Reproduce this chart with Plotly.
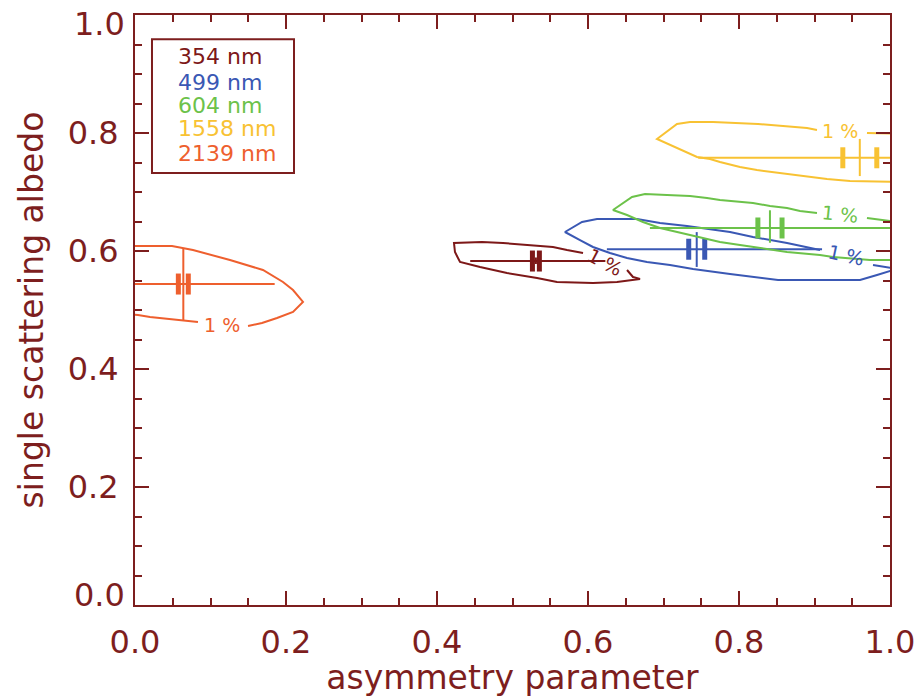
import plotly.graph_objects as go

AX = "#7D1E1E"
FONT = "DejaVu Sans"

wavelengths = ["354 nm", "499 nm", "604 nm", "1558 nm", "2139 nm"]
colors = ["#7D1818", "#3A58B4", "#6CC24A", "#F8C233", "#EE5F2E"]
tick_vals = [0.0, 0.2, 0.4, 0.6, 0.8, 1.0]
tick_text = ["0.0", "0.2", "0.4", "0.6", "0.8", "1.0"]

# retrieved point (asymmetry g, single scattering albedo w)
g_center = [0.531, 0.744, 0.841, 0.960, 0.064]
w_center = [0.583, 0.603, 0.639, 0.758, 0.544]
g_err = [0.0046, 0.0106, 0.016, 0.0225, 0.0066]
# horizontal and vertical ranges
g_lo = [0.444, 0.625, 0.682, 0.746, 0.0]
g_hi = [0.623, 0.910, 1.02, 1.02, 0.185]
w_lo = [0.578, 0.573, 0.614, 0.727, 0.483]
w_hi = [0.589, 0.632, 0.669, 0.790, 0.605]

# "1 %" contours (None = label gap)
c354_g = [0.6517, 0.6596, 0.6689, 0.6384, 0.6066, 0.5589, 0.5325, 0.4927, 0.4570, 0.4305,
          0.4278, 0.4238, 0.4225, 0.4596, 0.4874, 0.5272, 0.5536, 0.5722, 0.5934]
c354_w = [0.5678, 0.5559, 0.5525, 0.5475, 0.5458, 0.5475, 0.5542, 0.5627, 0.5729, 0.5814,
          0.5881, 0.5983, 0.6136, 0.6153, 0.6136, 0.6102, 0.6068, 0.6017, 0.5966]
c499_g = [0.9775, 1.0, 1.009, 0.9828, 0.9603, 0.8517, 0.8185, 0.7881, 0.7391, 0.7086, 0.6781,
          0.6517, 0.6291, 0.6066, 0.5894, 0.5695, 0.5921, 0.6119, 0.6649, 0.6954, 0.7311,
          0.7576, 0.7881, 0.8185, 0.8636, 0.9073]
c499_w = [0.5763, 0.5712, 0.5695, 0.5593, 0.5508, 0.5508, 0.5559, 0.5610, 0.5695, 0.5763, 0.5814,
          0.5881, 0.5966, 0.6068, 0.6186, 0.6322, 0.6492, 0.6542, 0.6542, 0.6475, 0.6424,
          0.6373, 0.6322, 0.6237, 0.6136, 0.6017]
c604_g = [0.9695, 1.0199, None, 0.9033, 0.8808, 0.8636, 0.8411, 0.8185, 0.7748, 0.7576, 0.7351,
          0.7046, 0.6755, 0.6583, 0.6331, 0.6517, 0.6728, 0.6954, 0.7179, 0.7483, 0.7748,
          0.8013, 0.8371, 0.8636, 0.9073, 0.9245, 0.9735, 1.0199]
c604_w = [0.6559, 0.6475, None, 0.6644, 0.6678, 0.6729, 0.6763, 0.6814, 0.6864, 0.6898, 0.6932,
          0.6949, 0.6966, 0.6915, 0.6695, 0.6610, 0.6492, 0.6390, 0.6322, 0.6237, 0.6153,
          0.6102, 0.6034, 0.5983, 0.5932, 0.5898, 0.5847, 0.5847]
c1558_g = [0.9695, 1.0199, None, 0.9033, 0.8901, 0.8583, 0.8252, 0.7656, 0.7351, 0.7179, 0.6914,
           0.7444, 0.7616, 0.7748, 0.8013, 0.8238, 0.8543, 0.8901, 0.9166, 0.9470, 1.0199]
c1558_w = [0.8000, 0.7983, None, 0.8051, 0.8085, 0.8119, 0.8153, 0.8186, 0.8186, 0.8153, 0.7898,
           0.7593, 0.7559, 0.7508, 0.7424, 0.7373, 0.7322, 0.7254, 0.7220, 0.7186, 0.7169]
c2139_g = [0.1497, 0.1682, 0.1881, 0.2093, 0.2225, 0.2093, 0.1960, 0.1695, 0.1258, 0.0768, 0.0490,
           -0.0132, None, -0.0132, 0.0040, 0.0199, 0.0464, 0.0636, 0.0834]
c2139_w = [0.4729, 0.4780, 0.4864, 0.4966, 0.5136, 0.5339, 0.5475, 0.5678, 0.5847, 0.6017, 0.6085,
           0.6085, None, 0.4932, 0.4915, 0.4881, 0.4847, 0.4814, 0.4797]
contours_g = [c354_g, c499_g, c604_g, c1558_g, c2139_g]
contours_w = [c354_w, c499_w, c604_w, c1558_w, c2139_w]

label_g = [0.6225, 0.9417, 0.9338, 0.9338, 0.1152]
label_w = [0.5814, 0.5932, 0.6627, 0.8034, 0.4746]
label_angle = [28, 12, 6, 0, 0]

fig = go.Figure()
for i in range(5):
    c = colors[i]
    fig.add_trace(go.Scatter(x=contours_g[i], y=contours_w[i], mode="lines",
                             line=dict(color=c, width=2), showlegend=False, hoverinfo="skip"))
    fig.add_trace(go.Scatter(x=[g_lo[i], g_hi[i]], y=[w_center[i], w_center[i]], mode="lines",
                             line=dict(color=c, width=2), showlegend=False, hoverinfo="skip"))
    fig.add_trace(go.Scatter(x=[g_center[i], g_center[i]], y=[w_lo[i], w_hi[i]], mode="lines",
                             line=dict(color=c, width=2), showlegend=False, hoverinfo="skip"))
    fig.add_trace(go.Scatter(x=[g_center[i] - g_err[i], g_center[i] + g_err[i]],
                             y=[w_center[i], w_center[i]], mode="markers",
                             marker=dict(symbol="line-ns", size=15, line=dict(color=c, width=5)),
                             showlegend=False, hoverinfo="skip"))
    fig.add_annotation(x=label_g[i], y=label_w[i], text="1 %", showarrow=False,
                       textangle=label_angle[i], font=dict(family=FONT, size=19, color=c))

# legend box
fig.add_shape(type="rect", xref="paper", yref="paper", x0=0.0225, x1=0.2106, y0=0.732, y1=0.959,
              line=dict(color=AX, width=2), fillcolor="rgba(0,0,0,0)")
leg_y = [0.929, 0.886, 0.847, 0.808, 0.766]
for i in range(5):
    fig.add_annotation(xref="paper", yref="paper", x=0.054, y=leg_y[i], xanchor="left",
                       yanchor="middle", text=wavelengths[i], showarrow=False,
                       font=dict(family=FONT, size=22, color=colors[i]))

TICKFONT = dict(family=FONT, size=32, color=AX)
axis_common = dict(range=[0, 1], tickmode="array", tickvals=tick_vals,
                   ticks="inside", ticklen=14, automargin=False, ticklabeloverflow="allow",
                   tickwidth=1.5, tickcolor=AX, showline=True, linecolor=AX, linewidth=2,
                   mirror="allticks", showgrid=False, zeroline=False,
                   minor=dict(dtick=0.05, ticks="inside", ticklen=7, tickwidth=1.5, tickcolor=AX),
                   tickfont=TICKFONT)

# y end labels are drawn inward (as in the reference), inner ones by the axis
y_ticktext = [""] + tick_text[1:-1] + [""]
fig.add_annotation(xref="paper", yref="y", x=0, y=tick_vals[-1], xanchor="right", yanchor="top",
                   xshift=-8, yshift=12, text=tick_text[-1], showarrow=False, font=TICKFONT)
fig.add_annotation(xref="paper", yref="y", x=0, y=tick_vals[0], xanchor="right", yanchor="bottom",
                   xshift=-8, yshift=-11, text=tick_text[0], showarrow=False, font=TICKFONT)

fig.update_layout(
    width=917, height=697,
    margin=dict(l=135, r=27, t=15, b=92),
    plot_bgcolor="white", paper_bgcolor="white",
    xaxis=dict(**axis_common, ticktext=tick_text, ticklabelstandoff=8,
               title=dict(text="asymmetry parameter", font=dict(family=FONT, size=33, color=AX),
                          standoff=16)),
    yaxis=dict(**axis_common, ticktext=y_ticktext, ticklabelstandoff=8,
               title=dict(text="single scattering albedo", font=dict(family=FONT, size=33, color=AX),
                          standoff=14)),
)

fig.write_html("out.html")
